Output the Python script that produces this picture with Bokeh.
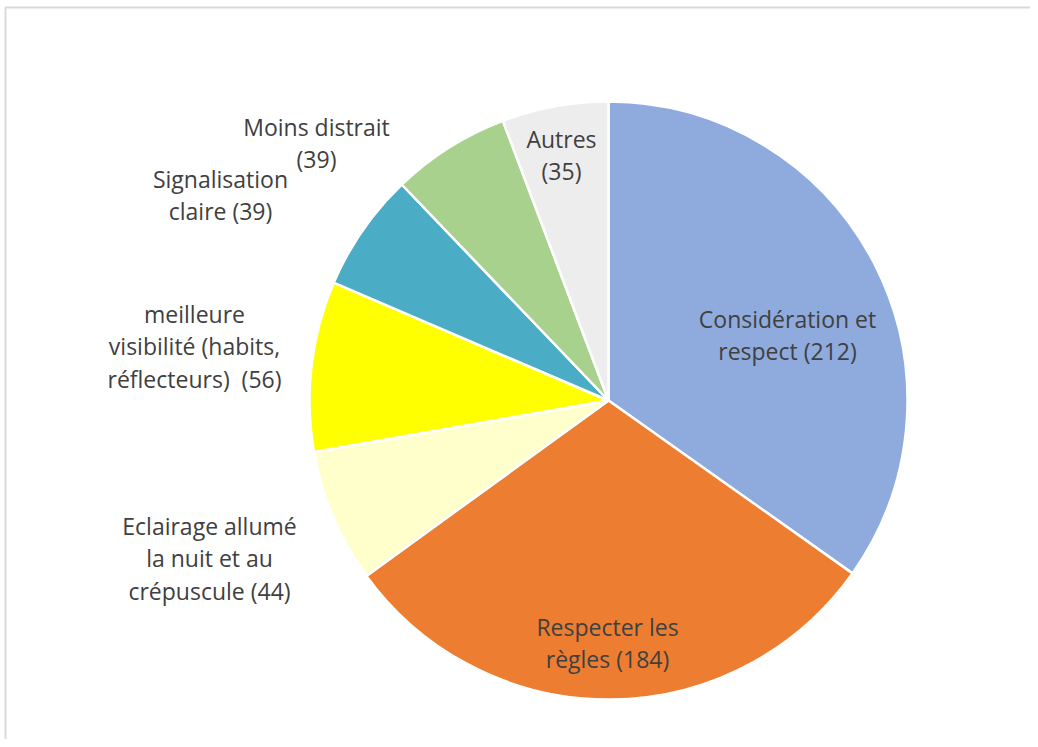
import math
from bokeh.plotting import figure
from bokeh.models import Range1d
from bokeh.core.properties import value
from bokeh.embed import file_html
from bokeh.resources import INLINE

# ---- data ----
categories = ["Considération et respect", "Respecter les règles",
              "Eclairage allumé la nuit et au crépuscule",
              "meilleure visibilité (habits, réflecteurs)",
              "Signalisation claire", "Moins distrait", "Autres"]
counts = [212, 184, 44, 56, 39, 39, 35]
label_lines = [
    ["Considération et", "respect (212)"],
    ["Respecter les", "règles (184)"],
    ["Eclairage allumé", "la nuit et au", "crépuscule (44)"],
    ["meilleure", "visibilité (habits,", "réflecteurs)\u00a0 (56)"],
    ["Signalisation", "claire (39)"],
    ["Moins distrait", "(39)"],
    ["Autres", "(35)"],
]
colors = ["#8FAADC", "#ED7D31", "#FFFFCC", "#FFFF00", "#4BACC6", "#A9D18E", "#EDEDED"]

# ---- layout (screen-like coordinates, y up) ----
W, H = 1030, 739
CX, CY, R = 608, 339, 299
# label centre positions (x, y of first line) in chart coordinates
label_pos = [(787, 421), (607, 113), (209, 214), (194, 426), (220, 561), (316, 613), (561, 601)]
LINE_STEP = 32.5

p = figure(width=W, height=H, output_backend="svg", toolbar_location=None,
           x_range=Range1d(0, W), y_range=Range1d(0, H), min_border=0,
           background_fill_color="white", border_fill_color="white")
p.axis.visible = False
p.grid.visible = False
p.outline_line_color = None

total = sum(counts)
cum = 0
starts, ends = [], []
for c in counts:
    a0 = math.pi / 2 - 2 * math.pi * (cum + c) / total
    a1 = math.pi / 2 - 2 * math.pi * cum / total
    starts.append(a0)
    ends.append(a1)
    cum += c

p.wedge(x=[CX] * len(counts), y=[CY] * len(counts), radius=R,
        start_angle=starts, end_angle=ends,
        fill_color=colors, line_color="white", line_width=2.5)

xs, ys, txt = [], [], []
for lines, (lx, ly) in zip(label_lines, label_pos):
    for i, t in enumerate(lines):
        xs.append(lx)
        ys.append(ly - i * LINE_STEP)
        txt.append(t)
p.text(x=xs, y=ys, text=txt, text_align="center", text_baseline="middle",
       text_font=value("Open Sans"), text_font_size="23px", text_color="#404040")

# frame (left and top edges)
p.line(x=[5, 5, W], y=[0, 732, 732], line_color="#D9D9D9", line_width=2)

open("out.html", "w").write(file_html(p, INLINE))
